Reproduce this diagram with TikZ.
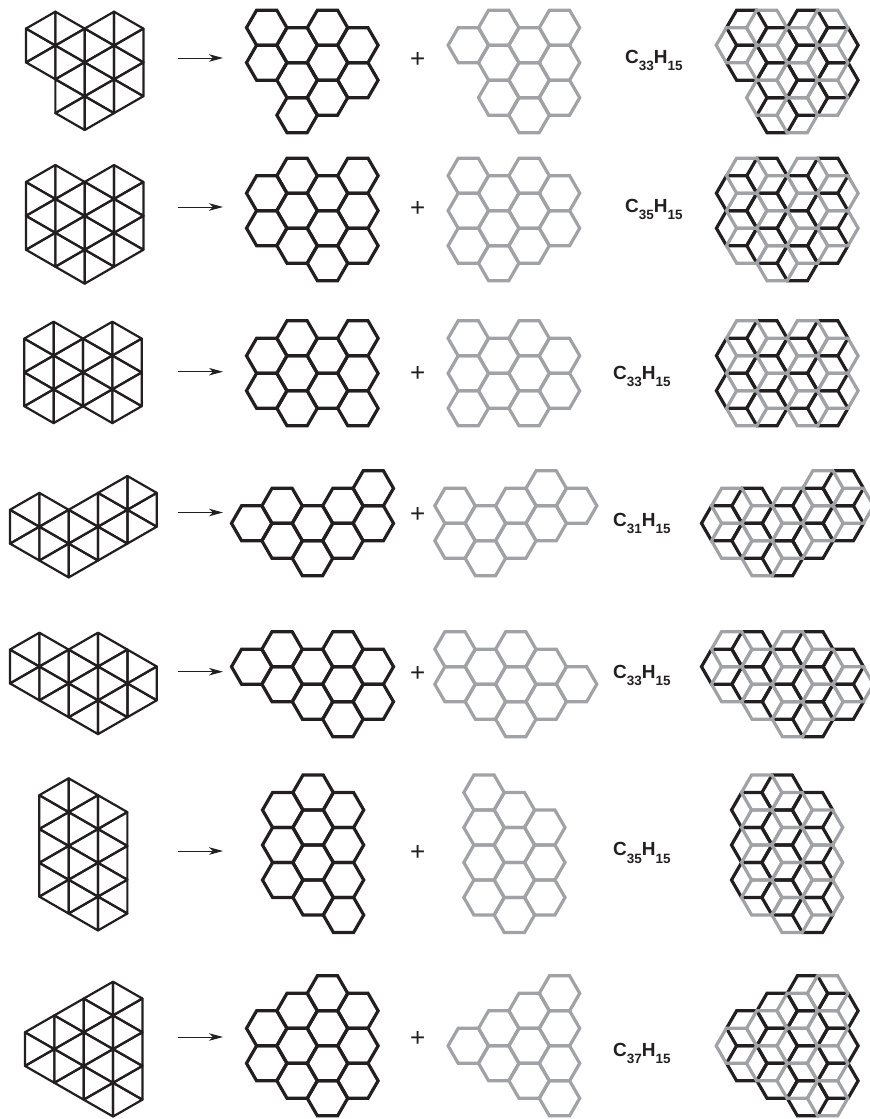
\documentclass[tikz,border=0pt]{standalone}
\usepackage{fontspec}
\setmainfont{Liberation Sans}
\usetikzlibrary{arrows.meta}
\definecolor{ink}{HTML}{231F20}
\definecolor{ash}{HTML}{A0A2A5}
\tikzset{
  gridline/.style={draw=ink,line width=2.2pt,line join=round},
  hexblack/.style={draw=ink,line width=3.2pt,line join=miter},
  hexgray/.style={draw=ash,line width=3.2pt,line join=miter},
  react/.style={draw=ink,line width=1.0pt,-{Stealth[length=14pt,width=7.5pt,inset=4pt]}},
  plussign/.style={text=ink,inner sep=0pt,font=\fontsize{26}{26}\selectfont},
  formula/.style={text=ink,inner sep=0pt,anchor=west,font=\fontsize{19}{19}\selectfont\bfseries}
}
\newcommand{\chemf}[2]{C\raisebox{-0.38em}{\fontsize{13.5}{13.5}\selectfont #1}H\raisebox{-0.38em}{\fontsize{13.5}{13.5}\selectfont #2}}
% honeycomb: origin x, origin y, style, list c/r
\newcommand{\hexset}[4]{%
  \foreach \cc/\rr in {#4} {
    \draw[#3] ({#1+\cc*30.4+20.2},{#2+\rr*17.5})
      -- ++(-10.1,17.5) -- ++(-20.2,0) -- ++(-10.1,-17.5)
      -- ++(10.1,-17.5) -- ++(20.2,0) -- cycle;
  }}
% triangle grid: origin x, y, half step, left-pointing list, right-pointing list
\newcommand{\triset}[5]{%
  \foreach \cc/\rr in {#4} {
    \draw[gridline] ({#1+\cc*29.35},{#2+\rr*#3})
      -- ({#1+(\cc+1)*29.35},{#2+(\rr-1)*#3})
      -- ({#1+(\cc+1)*29.35},{#2+(\rr+1)*#3}) -- cycle;
  }
  \foreach \cc/\rr in {#5} {
    \draw[gridline] ({#1+(\cc+1)*29.35},{#2+\rr*#3})
      -- ({#1+\cc*29.35},{#2+(\rr-1)*#3})
      -- ({#1+\cc*29.35},{#2+(\rr+1)*#3}) -- cycle;
  }}
% arrow and plus at height y, row tag
\newcommand{\midpart}[2]{%
  \coordinate (as#1) at (178,#2);
  \coordinate (ae#1) at (223,#2);
  \draw[react] (as#1) -- (ae#1);
  \node[plussign] (pl#1) at (417.7,#2+2) {+};
}
\begin{document}
\begin{tikzpicture}[x=1pt,y=-1pt]
\useasboundingbox (0,0) rectangle (870,1119);
% row 1
\triset{26}{11.7}{16.9}{0/1,0/3,1/2,1/4,1/6,2/1,2/3,2/5,3/2,3/4}{0/2,1/1,1/3,1/5,2/2,2/4,2/6,3/1,3/3,3/5}
\hexset{266.7}{10.2}{hexblack}{0/1,0/3,1/2,1/4,1/6,2/1,2/3,2/5,3/2,3/4}
\hexset{468.3}{10.2}{hexgray}{0/2,1/1,1/3,1/5,2/2,2/4,2/6,3/1,3/3,3/5}
\hexset{746.7}{10.2}{hexblack}{0/1,0/3,1/2,1/4,1/6,2/1,2/3,2/5,3/2,3/4}
\hexset{736.4}{10.2}{hexgray}{0/2,1/1,1/3,1/5,2/2,2/4,2/6,3/1,3/3,3/5}
\midpart{a}{58}
\node[formula] (fa) at (625,60.3) {\chemf{33}{15}};
% row 2
\triset{26}{165}{16.95}{0/1,0/3,0/5,1/2,1/4,1/6,2/1,2/3,2/5,3/2,3/4}{0/2,0/4,1/1,1/3,1/5,2/2,2/4,2/6,3/1,3/3,3/5}
\hexset{266.7}{158.2}{hexblack}{0/2,0/4,1/1,1/3,1/5,2/2,2/4,2/6,3/1,3/3,3/5}
\hexset{468.3}{158.2}{hexgray}{0/1,0/3,0/5,1/2,1/4,1/6,2/1,2/3,2/5,3/2,3/4}
\hexset{736.6}{158.2}{hexblack}{0/2,0/4,1/1,1/3,1/5,2/2,2/4,2/6,3/1,3/3,3/5}
\hexset{746.7}{158.2}{hexgray}{0/1,0/3,0/5,1/2,1/4,1/6,2/1,2/3,2/5,3/2,3/4}
\midpart{b}{207}
\node[formula] (fb) at (625,209.6) {\chemf{35}{15}};
% row 3
\triset{24.3}{321.7}{16.9}{0/1,0/3,0/5,1/2,1/4,2/1,2/3,2/5,3/2,3/4}{0/2,0/4,1/1,1/3,1/5,2/2,2/4,3/1,3/3,3/5}
\hexset{266.7}{320.8}{hexblack}{0/2,0/4,1/1,1/3,1/5,2/2,2/4,3/1,3/3,3/5}
\hexset{468.3}{320.8}{hexgray}{0/1,0/3,0/5,1/2,1/4,2/1,2/3,2/5,3/2,3/4}
\hexset{736.6}{320.8}{hexblack}{0/2,0/4,1/1,1/3,1/5,2/2,2/4,3/1,3/3,3/5}
\hexset{746.7}{320.8}{hexgray}{0/1,0/3,0/5,1/2,1/4,2/1,2/3,2/5,3/2,3/4}
\midpart{c}{371.7}
\node[formula] (fc) at (613,376.6) {\chemf{33}{15}};
% row 4
\triset{10}{476}{16.9}{0/2,0/4,1/3,1/5,2/2,2/4,3/1,3/3,4/2}{0/3,1/2,1/4,2/3,2/5,3/2,3/4,4/1,4/3}
\hexset{251.7}{470.8}{hexblack}{0/3,1/2,1/4,2/3,2/5,3/2,3/4,4/1,4/3}
\hexset{455}{470.8}{hexgray}{0/2,0/4,1/3,1/5,2/2,2/4,3/1,3/3,4/2}
\hexset{721.7}{470.8}{hexblack}{0/3,1/2,1/4,2/3,2/5,3/2,3/4,4/1,4/3}
\hexset{731.7}{470.8}{hexgray}{0/2,0/4,1/3,1/5,2/2,2/4,3/1,3/3,4/2}
\midpart{d}{512.5}
\node[formula] (fd) at (613,523.6) {\chemf{31}{15}};
% row 5
\triset{10}{632.7}{16.9}{0/1,0/3,1/2,1/4,2/1,2/3,2/5,3/2,3/4,4/3}{0/2,1/1,1/3,2/2,2/4,3/1,3/3,3/5,4/2,4/4}
\hexset{251.7}{631.7}{hexblack}{0/2,1/1,1/3,2/2,2/4,3/1,3/3,3/5,4/2,4/4}
\hexset{455}{631.7}{hexgray}{0/1,0/3,1/2,1/4,2/1,2/3,2/5,3/2,3/4,4/3}
\hexset{721.7}{631.7}{hexblack}{0/2,1/1,1/3,2/2,2/4,3/1,3/3,3/5,4/2,4/4}
\hexset{731.7}{631.7}{hexgray}{0/1,0/3,1/2,1/4,2/1,2/3,2/5,3/2,3/4,4/3}
\midpart{e}{671.7}
\node[formula] (fe) at (613,675.3) {\chemf{33}{15}};
% row 6
\triset{39.3}{778.3}{16.9}{0/1,0/3,0/5,0/7,1/2,1/4,1/6,1/8,2/3,2/5,2/7}{0/2,0/4,0/6,1/1,1/3,1/5,1/7,2/2,2/4,2/6,2/8}
\hexset{282.7}{775}{hexblack}{0/2,0/4,0/6,1/1,1/3,1/5,1/7,2/2,2/4,2/6,2/8}
\hexset{484}{775}{hexgray}{0/1,0/3,0/5,0/7,1/2,1/4,1/6,1/8,2/3,2/5,2/7}
\hexset{751.7}{775}{hexblack}{0/2,0/4,0/6,1/1,1/3,1/5,1/7,2/2,2/4,2/6,2/8}
\hexset{761.7}{775}{hexgray}{0/1,0/3,0/5,0/7,1/2,1/4,1/6,1/8,2/3,2/5,2/7}
\midpart{f}{851}
\node[formula] (ff) at (613,852.9) {\chemf{35}{15}};
% row 7
\triset{25}{981.7}{16.85}{0/3,0/5,1/2,1/4,1/6,2/1,2/3,2/5,2/7,3/2,3/4,3/6}{0/4,1/3,1/5,2/2,2/4,2/6,3/1,3/3,3/5,3/7}
\hexset{266.7}{975.8}{hexblack}{0/3,0/5,1/2,1/4,1/6,2/1,2/3,2/5,2/7,3/2,3/4,3/6}
\hexset{468.3}{975.8}{hexgray}{0/4,1/3,1/5,2/2,2/4,2/6,3/1,3/3,3/5,3/7}
\hexset{746.7}{975.8}{hexblack}{0/3,0/5,1/2,1/4,1/6,2/1,2/3,2/5,2/7,3/2,3/4,3/6}
\hexset{736.4}{975.8}{hexgray}{0/4,1/3,1/5,2/2,2/4,2/6,3/1,3/3,3/5,3/7}
\midpart{g}{1037}
\node[formula] (fg) at (613,1053.6) {\chemf{37}{15}};
\end{tikzpicture}
\end{document}
